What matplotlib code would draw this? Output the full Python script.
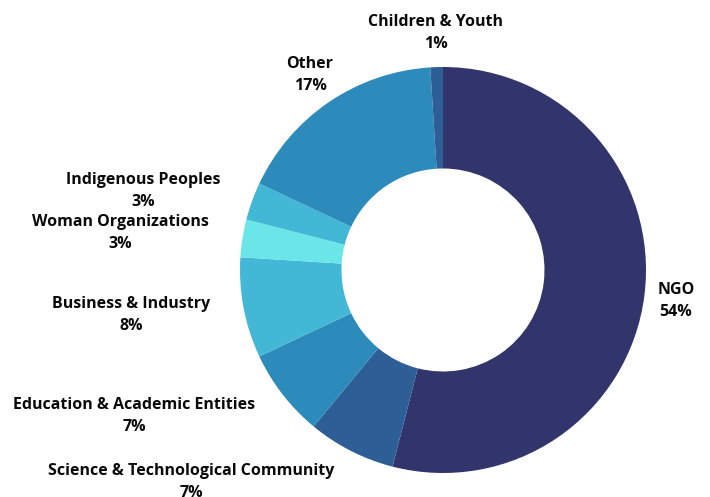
import matplotlib.pyplot as plt

# Share of participants by major group
categories = ["NGO", "Science & Technological Community", "Education & Academic Entities",
              "Business & Industry", "Woman Organizations", "Indigenous Peoples",
              "Other", "Children & Youth"]
shares = [54, 7, 7, 8, 3, 3, 17, 1]
colors = ["#32356c", "#2e5e96", "#2c8bba", "#42b7d6", "#6ae5e8", "#42b7d6", "#2c8bba", "#2e5e96"]

# label block centres in pixels (x, y from top)
label_pos = [(676, 301), (191, 482), (134, 416), (131, 315), (120, 233),
             (143, 191), (310, 75), (436, 33)]

W, H = 710, 497
cx, cy, R = 443, 270, 203

plt.rcParams['font.family'] = ['Open Sans', 'DejaVu Sans']
fig = plt.figure(figsize=(W / 100, H / 100), dpi=100)
ax = fig.add_axes([0, 0, 1, 1])

ax.pie(shares, colors=colors, startangle=90, counterclock=False, radius=1,
       wedgeprops=dict(width=0.5, linewidth=0))
ax.set_aspect('auto')
ax.set_xlim(-cx / R, (W - cx) / R)
ax.set_ylim(-(H - cy) / R, cy / R)
ax.axis('off')

for name, val, (px, py) in zip(categories, shares, label_pos):
    fig.text(px / W, 1 - py / H, f"{name}\n{val}%", ha='center', va='center',
             fontsize=11.5, fontweight='bold', color='#0a0a0a', linespacing=1.45)

fig.savefig("out.png", dpi=100)
